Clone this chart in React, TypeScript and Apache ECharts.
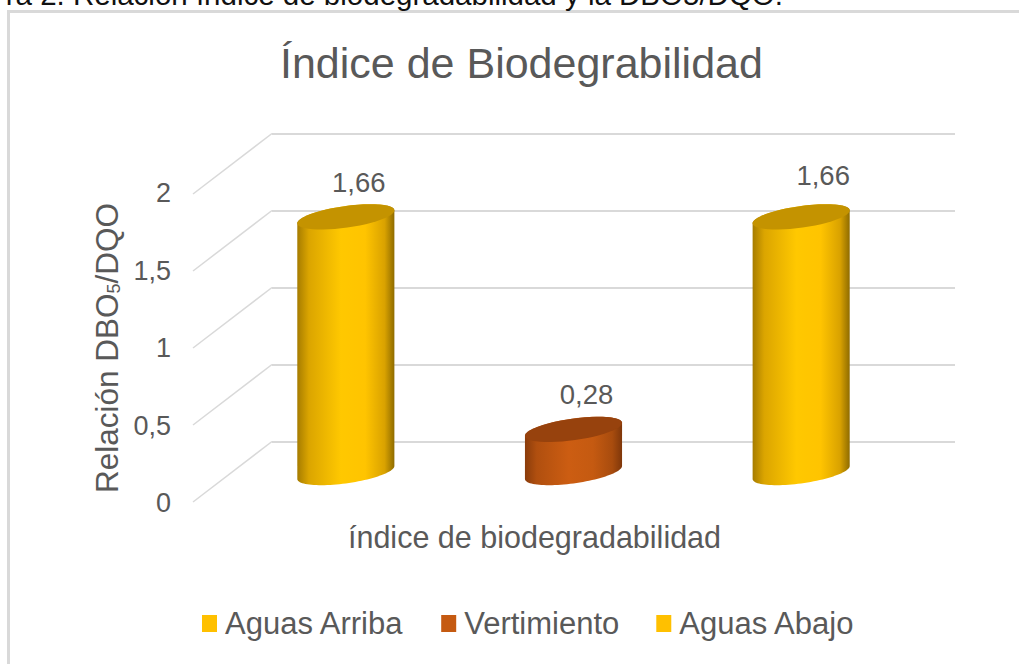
import React, { useEffect, useRef } from "react";
import * as echarts from "echarts";

const CAPTION = "ra 2. Relación índice de biodegradabilidad y la DBO5/DQO.";
const TITLE = "Índice de Biodegrabilidad";
const CATEGORIES = ["índice de biodegradabilidad"];
const SERIES_NAMES = ["Aguas Arriba", "Vertimiento", "Aguas Abajo"];
const SERIES_VALUES = [1.66, 0.28, 1.66];
const TICKS = [0, 0.5, 1, 1.5, 2];

const FONT = "'Liberation Sans', Arial, sans-serif";
const GREY = "#595959";
const LINE = "#d9d9d9";
const PALETTE = [
  { legend: "#ffc000", top: "#c49300", stops: ["#a67c00", "#dba500", "#ffc800", "#ffc400", "#d9a200", "#8f6c00"] },
  { legend: "#c55a11", top: "#97420d", stops: ["#8a3c0b", "#b04f0f", "#cc5d12", "#c55a11", "#a84c0e", "#7f370a"] },
  { legend: "#ffc000", top: "#c49300", stops: ["#a67c00", "#dba500", "#ffc800", "#ffc400", "#d9a200", "#8f6c00"] },
];
const LABEL_OFFSETS = [[13, -34], [13, -35], [22, -41]];

const RX = 49;
const RY = 10.8;
const TILT = (-8 * Math.PI) / 180;

function ellipsePoint(cx: number, cy: number, t: number) {
  const x = RX * Math.cos(t);
  const y = RY * Math.sin(t);
  return [cx + x * Math.cos(TILT) - y * Math.sin(TILT), cy + x * Math.sin(TILT) + y * Math.cos(TILT)];
}
function arc(cx: number, cy: number, from: number, to: number) {
  const pts: number[][] = [];
  const n = 48;
  for (let i = 0; i <= n; i++) pts.push(ellipsePoint(cx, cy, from + ((to - from) * i) / n));
  return pts;
}

function cylinderSeries(i: number) {
  return {
    type: "custom",
    name: SERIES_NAMES[i],
    xAxisIndex: 2,
    yAxisIndex: 2,
    clip: false,
    itemStyle: { color: PALETTE[i].legend },
    data: [[0, SERIES_VALUES[i]]],
    encode: { x: 0, y: 1 },
    renderItem: (_p: any, api: any) => {
      const band = api.size([1, 0])[0] / SERIES_NAMES.length;
      const cat = api.value(0);
      const val = api.value(1);
      const cx = api.coord([cat, 0])[0] + (i - (SERIES_NAMES.length - 1) / 2) * band;
      const baseY = api.coord([cat, 0])[1];
      const topY = api.coord([cat, val])[1];
      // angle of the horizontal extremes of the tilted ellipse
      const t0 = Math.atan2(-RY * Math.sin(TILT), RX * Math.cos(TILT));
      const body = [
        ...arc(cx, topY, t0, t0 - Math.PI),
        ...arc(cx, baseY, t0 + Math.PI, t0),
      ];
      const s = PALETTE[i].stops;
      const fill = new echarts.graphic.LinearGradient(0, 0, 1, 0, [
        { offset: 0, color: s[0] },
        { offset: 0.12, color: s[1] },
        { offset: 0.45, color: s[2] },
        { offset: 0.7, color: s[3] },
        { offset: 0.9, color: s[4] },
        { offset: 1, color: s[5] },
      ]);
      return {
        type: "group",
        children: [
          { type: "polygon", shape: { points: body }, style: { fill } },
          { type: "polygon", shape: { points: arc(cx, topY, 0, Math.PI * 2) }, style: { fill: PALETTE[i].top } },
          {
            type: "text",
            x: cx + LABEL_OFFSETS[i][0],
            y: topY + LABEL_OFFSETS[i][1],
            style: {
              text: String(val).replace(".", ","),
              fill: GREY,
              font: `27.5px ${FONT}`,
              align: "center",
              verticalAlign: "middle",
            },
          },
        ],
      };
    },
  };
}

function App() {
  const ref = useRef<HTMLDivElement>(null);
  useEffect(() => {
    const chart = echarts.init(ref.current!, null, { renderer: "svg" });
    const fmt = (v: number) => String(v).replace(".", ",");
    const hiddenX = {
      type: "category",
      data: CATEGORIES,
      axisLine: { show: false },
      axisTick: { show: false },
      axisLabel: { show: false },
      splitLine: { show: false },
    };
    chart.setOption({
      animation: false,
      backgroundColor: "#ffffff",
      textStyle: { fontFamily: FONT },
      title: {
        text: TITLE,
        left: 275,
        top: 36,
        textStyle: { color: GREY, fontSize: 43, fontWeight: "normal", fontFamily: FONT },
      },
      graphic: [
        { type: "line", shape: { x1: 8.5, y1: 11.5, x2: 8.5, y2: 664 }, style: { stroke: LINE, lineWidth: 3 } },
        { type: "line", shape: { x1: 7, y1: 11.5, x2: 1019, y2: 11.5 }, style: { stroke: LINE, lineWidth: 3 } },
        {
          type: "text",
          x: 783,
          y: 9,
          style: { text: CAPTION, fill: "#111111", font: `29.5px ${FONT}`, align: "right", verticalAlign: "bottom" },
        },
      ],
      legend: {
        left: 202,
        top: 608,
        padding: 0,
        icon: "rect",
        itemWidth: 15,
        itemHeight: 17,
        itemGap: 37,
        data: SERIES_NAMES,
        textStyle: { color: GREY, fontSize: 31, fontFamily: FONT, padding: [0, 0, 0, 3] },
      },
      grid: [
        { left: 272, width: 683, top: 133.5, height: 308 },
        { left: 193, width: 683, top: 193, height: 310 },
        { left: 232, width: 683, top: 164.5, height: 308 },
      ],
      xAxis: [
        { ...hiddenX, gridIndex: 0 },
        {
          ...hiddenX,
          gridIndex: 1,
          axisLabel: { show: true, color: GREY, fontSize: 30.5, fontFamily: FONT, margin: 18 },
        },
        { ...hiddenX, gridIndex: 2 },
      ],
      yAxis: [
        {
          type: "value",
          gridIndex: 0,
          min: 0,
          max: 2,
          interval: 0.5,
          axisLine: { show: false },
          axisTick: { show: false },
          axisLabel: { show: false },
          splitLine: { show: true, lineStyle: { color: LINE, width: 2 } },
        },
        {
          type: "value",
          gridIndex: 1,
          min: 0,
          max: 2,
          interval: 0.5,
          axisLine: { show: false },
          axisTick: { show: false },
          splitLine: { show: false },
          axisLabel: { color: GREY, fontSize: 27, fontFamily: FONT, margin: 22, formatter: fmt },
          name: "Relación DBO{sub|5}/DQO",
          nameLocation: "middle",
          nameGap: 69,
          nameRotate: 90,
          nameTextStyle: {
            color: GREY,
            fontSize: 31.5,
            fontFamily: FONT,
            rich: { sub: { fontSize: 18, color: GREY, fontFamily: FONT, verticalAlign: "bottom", padding: [12, 0, 0, 0] } },
          },
        },
        {
          type: "value",
          gridIndex: 2,
          min: 0,
          max: 2,
          interval: 0.5,
          axisLine: { show: false },
          axisTick: { show: false },
          axisLabel: { show: false },
          splitLine: { show: false },
        },
      ],
      series: [
        {
          type: "custom",
          name: "depth",
          xAxisIndex: 0,
          yAxisIndex: 0,
          clip: false,
          silent: true,
          z: 1,
          data: TICKS.map((t) => [0, t]),
          encode: { x: 0, y: 1 },
          renderItem: (p: any, api: any) => {
            const y = api.coord([0, api.value(1)])[1];
            const x = p.coordSys.x;
            return {
              type: "line",
              shape: { x1: x, y1: y, x2: x - 79, y2: y + 60.5 },
              style: { stroke: LINE, lineWidth: 1.5 },
            };
          },
        },
        cylinderSeries(0),
        cylinderSeries(1),
        cylinderSeries(2),
      ],
    });
    return () => chart.dispose();
  }, []);
  return <div ref={ref} style={{ position: "fixed", left: 0, top: 0, width: 1019, height: 664 }} />;
}

export default App;
